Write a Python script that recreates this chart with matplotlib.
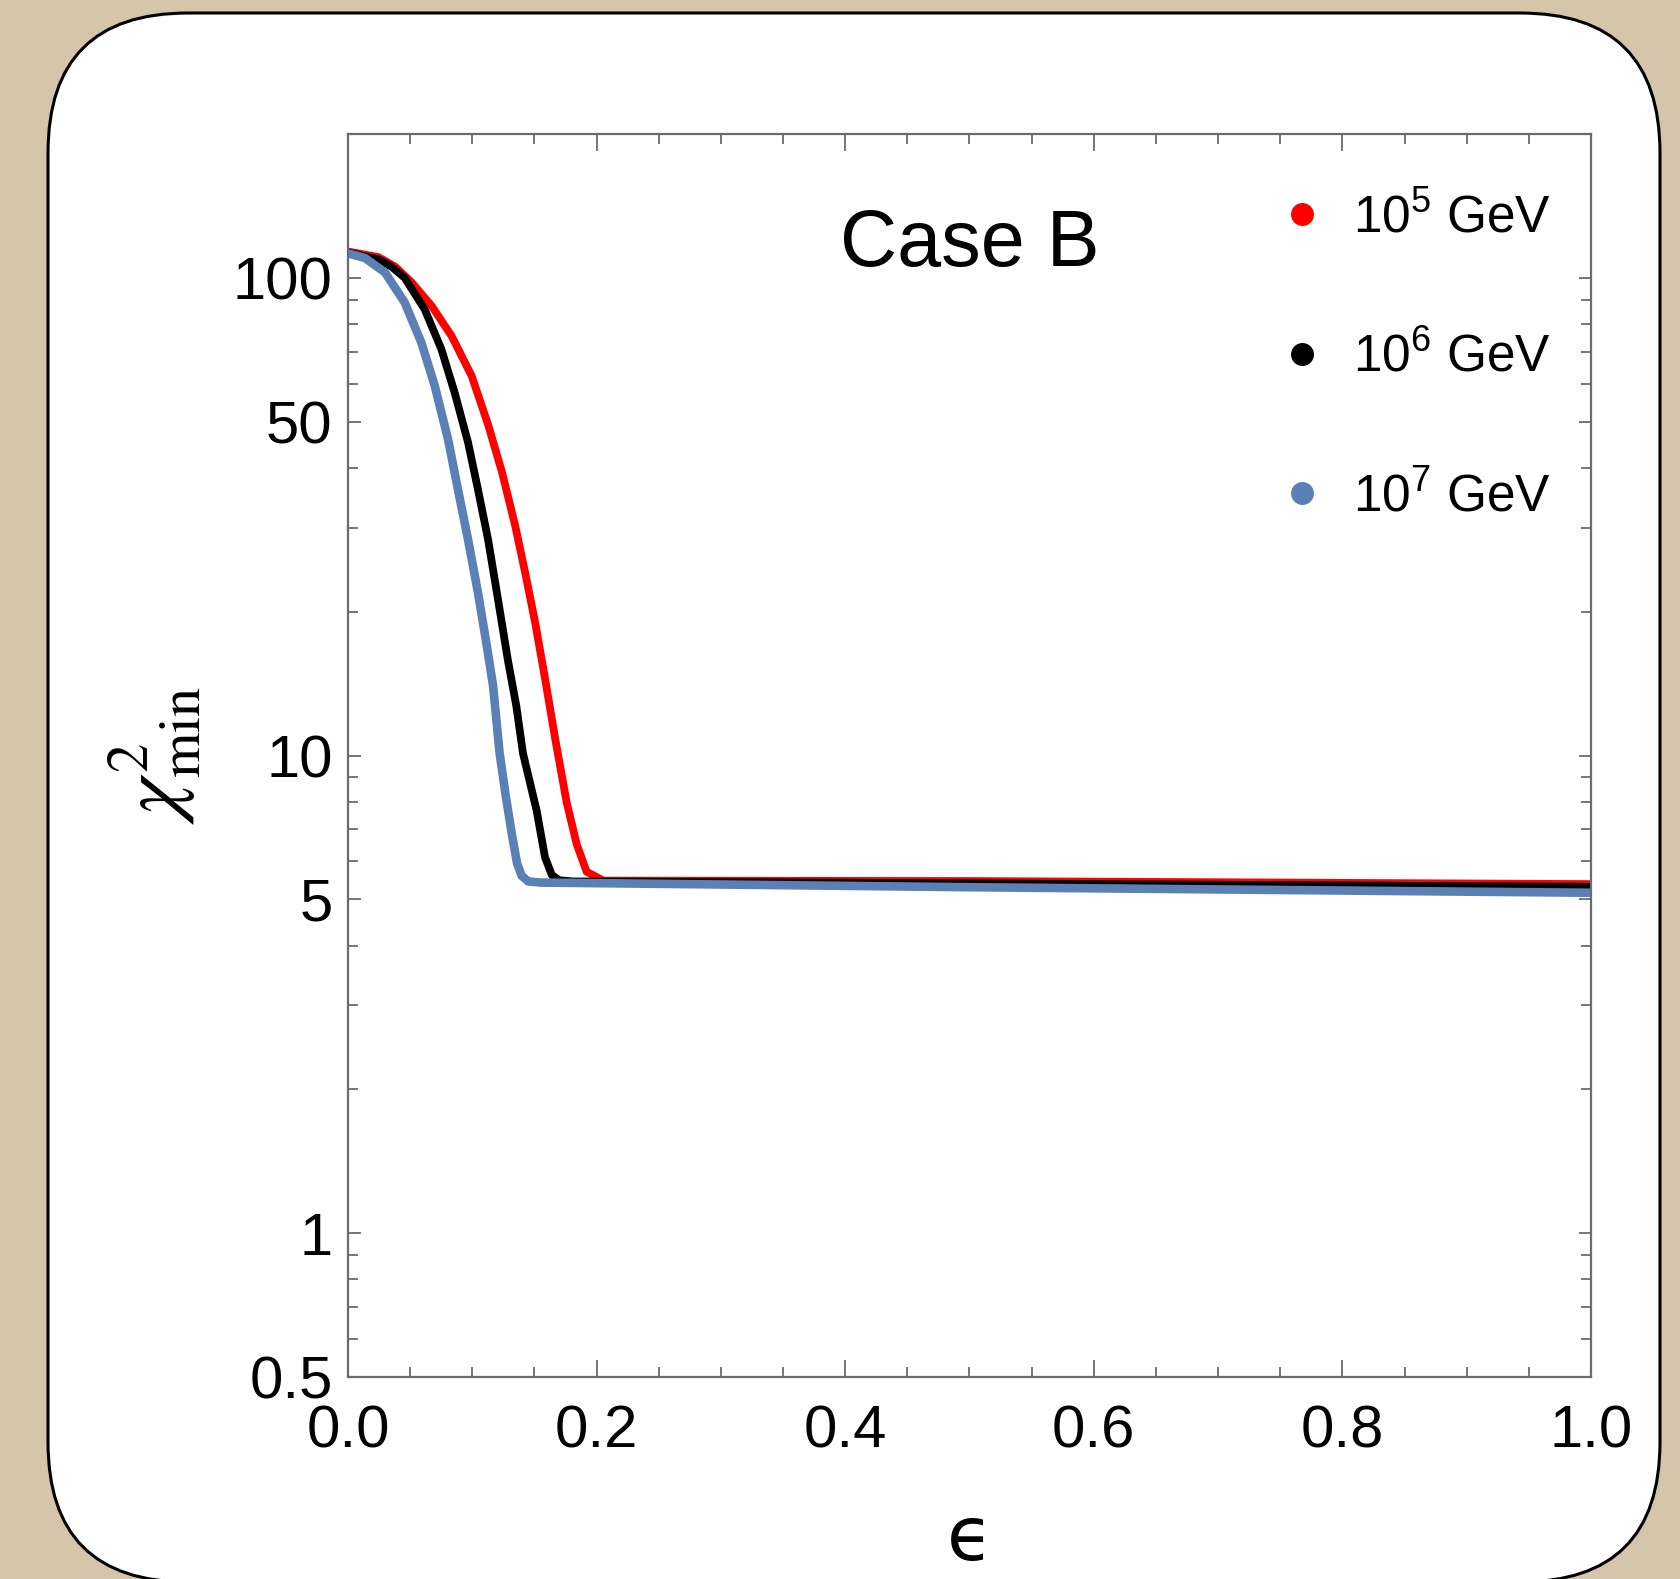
import numpy as np
import matplotlib
matplotlib.use("Agg")
import matplotlib.pyplot as plt
from matplotlib.patches import FancyBboxPatch
from matplotlib.lines import Line2D
from matplotlib.ticker import FixedLocator, FixedFormatter, NullFormatter

plt.rcParams['font.family'] = ['Liberation Sans', 'DejaVu Sans']

# valores (epsilon, chi2_min)
eps_red = [0.0, 0.0244, 0.038, 0.0512, 0.0673, 0.0834, 0.0995, 0.113, 0.124, 0.1346,
           0.1426, 0.1507, 0.1587, 0.1668, 0.1759, 0.1840, 0.1920, 0.2054, 0.5, 1.0]
chi_red = [113.5, 110.5, 105.5, 97.8, 87.3, 75.5, 62.3, 49.0, 39.1, 30.2,
           24.1, 18.9, 14.4, 10.8, 7.98, 6.52, 5.71, 5.47, 5.46, 5.38]

eps_blk = [0.0, 0.0244, 0.035, 0.0456, 0.0617, 0.0751, 0.0858, 0.0966, 0.1046, 0.1127,
           0.1207, 0.1287, 0.1354, 0.1408, 0.1518, 0.1585, 0.1640, 0.1700, 0.181, 0.5, 1.0]
chi_blk = [113.0, 109.3, 105.5, 100, 85.9, 70.9, 57.5, 45.2, 36.0, 28.3,
           21.2, 15.8, 12.7, 10.1, 7.66, 6.12, 5.62, 5.48, 5.45, 5.40, 5.31]

eps_blu = [0.0, 0.0137, 0.0298, 0.0456, 0.0590, 0.0698, 0.0805, 0.0885, 0.0966,
           0.1046, 0.1113, 0.1167, 0.1220, 0.1270, 0.1320, 0.1360, 0.1397, 0.145, 0.155,
           0.3, 0.5, 1.0]
chi_blu = [112.5, 110, 102.6, 88.8, 73.2, 59.4, 45.9, 36.0, 28.3,
           21.9, 17.2, 14.0, 10.1, 8.2, 6.8, 5.95, 5.6, 5.45, 5.42,
           5.37, 5.30, 5.16]

series_labels = [r'$\mathregular{10^5}$ GeV', r'$\mathregular{10^6}$ GeV', r'$\mathregular{10^7}$ GeV']
series_colors = ['#ff0000', '#000000', '#5b80b5']

xticks = [0.0, 0.2, 0.4, 0.6, 0.8, 1.0]
xticklabels = ['0.0', '0.2', '0.4', '0.6', '0.8', '1.0']
xminor = [0.05, 0.1, 0.15, 0.25, 0.3, 0.35, 0.45, 0.5, 0.55, 0.65, 0.7, 0.75, 0.85, 0.9, 0.95]
yticks = [0.5, 1, 5, 10, 50, 100]
yticklabels = ['0.5', '1', '5', '10', '50', '100']
yminor = [0.6, 0.7, 0.8, 0.9, 2, 3, 4, 6, 7, 8, 9, 20, 30, 40, 60, 70, 80, 90]

W, H = 1681, 1579
fig = plt.figure(figsize=(W / 100, H / 100), dpi=100)
fig.patch.set_facecolor('#d5c6ab')

# marco blanco redondeado
marco = FancyBboxPatch((0.48, -0.03), 16.12, 15.69,
                       boxstyle="round,pad=0,rounding_size=1.4",
                       transform=fig.dpi_scale_trans, facecolor='white',
                       edgecolor='black', linewidth=2.2, zorder=-5)
fig.patches.append(marco)

ax = fig.add_axes([348 / W, (H - 1377) / H, 1243 / W, 1243 / H])
ax.set_facecolor('white')

estilo = dict(solid_capstyle='round', solid_joinstyle='round')
ax.plot(eps_red, chi_red, color=series_colors[0], lw=5.6, **estilo)
ax.plot(eps_blk, chi_blk, color=series_colors[1], lw=5.6, **estilo)
ax.plot(eps_blu, chi_blu, color=series_colors[2], lw=6.2, **estilo)

ax.set_yscale('log')
ax.set_xlim(0, 1)
ax.set_ylim(0.5, 200)

ax.xaxis.set_major_locator(FixedLocator(xticks))
ax.xaxis.set_major_formatter(FixedFormatter(xticklabels))
ax.xaxis.set_minor_locator(FixedLocator(xminor))
ax.yaxis.set_major_locator(FixedLocator(yticks))
ax.yaxis.set_major_formatter(FixedFormatter(yticklabels))
ax.yaxis.set_minor_locator(FixedLocator(yminor))
ax.yaxis.set_minor_formatter(NullFormatter())

gris = '#6b6b6b'
for s in ax.spines.values():
    s.set_color(gris)
    s.set_linewidth(1.6)
ax.tick_params(which='both', direction='in', top=True, right=True, color=gris,
               width=1.3, labelsize=43, labelcolor='black')
ax.tick_params(axis='x', which='major', length=12.5, pad=20)
ax.tick_params(axis='x', which='minor', length=7.5)
ax.tick_params(axis='y', which='major', length=9, pad=11)
ax.tick_params(axis='y', which='minor', length=7)

# etiqueta x: epsilon lunado
ax.text(0.5, -0.131, '\u03f5', ha='center', va='center', fontsize=54,
        family='DejaVu Sans', transform=ax.transAxes)
ax.set_ylabel(r'$\chi^2_{\rm min}$', fontsize=60, math_fontfamily='stix')
ax.yaxis.set_label_coords(-0.117, 0.5)

ax.text(0.5, 0.910, 'Case B', ha='center', va='center', fontsize=57, transform=ax.transAxes)

handles = [Line2D([], [], ls='none', marker='o', ms=15.5, color=c) for c in series_colors]
ax.legend(handles, series_labels, loc='upper right', bbox_to_anchor=(0.968, 0.9525),
          frameon=False, prop={'family': 'Liberation Sans', 'size': 37},
          labelspacing=1.74, handlelength=0.8, handletextpad=0.6,
          borderpad=0, borderaxespad=0)

fig.savefig('out.png', dpi=100, facecolor=fig.get_facecolor())
